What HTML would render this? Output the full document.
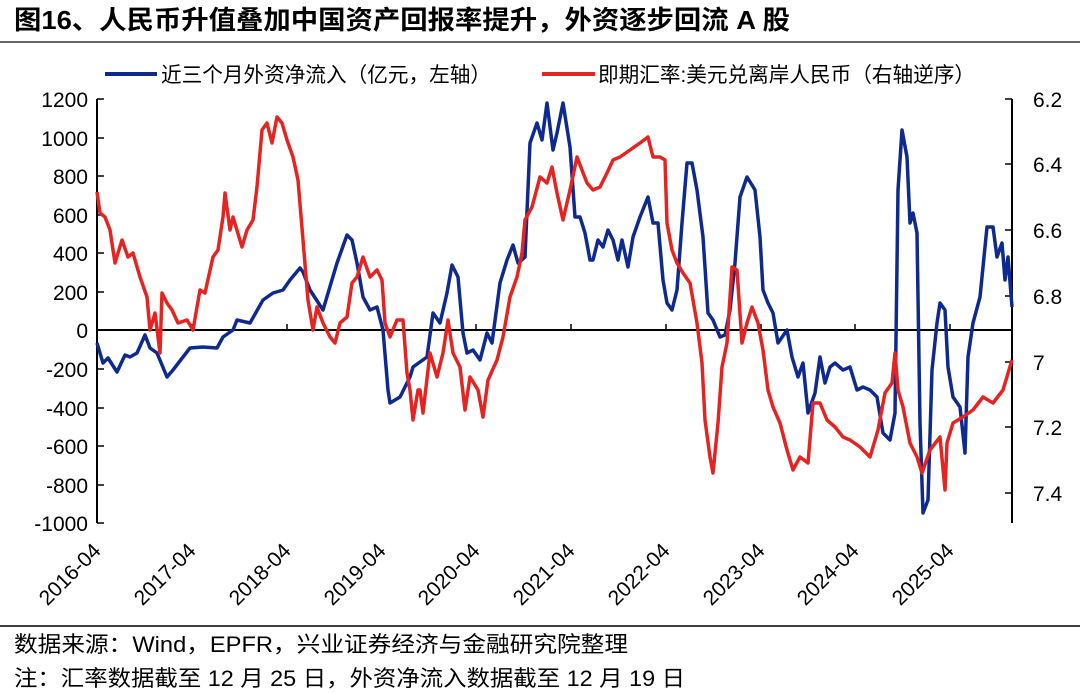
<!DOCTYPE html>
<html><head><meta charset="utf-8"><style>
body{margin:0;background:#fff;width:1080px;height:694px;overflow:hidden;font-family:"Liberation Sans","Noto Sans CJK SC",sans-serif}
svg{position:absolute;left:0;top:0}
</style></head><body>
<svg width="1080" height="694" viewBox="0 0 1080 694" font-family="Liberation Sans, Noto Sans CJK SC, sans-serif">
<text x="14" y="29" font-size="26" font-weight="bold" fill="#000" textLength="776" lengthAdjust="spacingAndGlyphs">图16、人民币升值叠加中国资产回报率提升，外资逐步回流 A 股</text>
<line x1="0" y1="42" x2="1080" y2="42" stroke="#666" stroke-width="2"/>
<line x1="105" y1="74" x2="157" y2="74" stroke="#0e2a8e" stroke-width="4"/>
<text x="161" y="82" font-size="21" textLength="330" lengthAdjust="spacingAndGlyphs">近三个月外资净流入（亿元，左轴）</text>
<line x1="542" y1="74" x2="595" y2="74" stroke="#e52421" stroke-width="4"/>
<text x="598" y="82" font-size="21" textLength="377" lengthAdjust="spacingAndGlyphs">即期汇率:美元兑离岸人民币（右轴逆序）</text>
<g stroke="#000" stroke-width="2">
<line x1="97" y1="99" x2="97" y2="523"/>
<line x1="1012" y1="99" x2="1012" y2="523"/>
<line x1="97" y1="330" x2="1012" y2="330"/>
</g>
<g stroke="#000" stroke-width="1.5">
<line x1="97" y1="99" x2="104" y2="99"/><line x1="97" y1="138" x2="104" y2="138"/><line x1="97" y1="176" x2="104" y2="176"/><line x1="97" y1="215" x2="104" y2="215"/><line x1="97" y1="253" x2="104" y2="253"/><line x1="97" y1="292" x2="104" y2="292"/><line x1="97" y1="369" x2="104" y2="369"/><line x1="97" y1="408" x2="104" y2="408"/><line x1="97" y1="446" x2="104" y2="446"/><line x1="97" y1="485" x2="104" y2="485"/><line x1="97" y1="523" x2="104" y2="523"/>
<line x1="1005" y1="99" x2="1012" y2="99"/><line x1="1005" y1="164" x2="1012" y2="164"/><line x1="1005" y1="230" x2="1012" y2="230"/><line x1="1005" y1="296" x2="1012" y2="296"/><line x1="1005" y1="362" x2="1012" y2="362"/><line x1="1005" y1="427" x2="1012" y2="427"/><line x1="1005" y1="493" x2="1012" y2="493"/>
<line x1="192" y1="330" x2="192" y2="324"/><line x1="287" y1="330" x2="287" y2="324"/><line x1="382" y1="330" x2="382" y2="324"/><line x1="476" y1="330" x2="476" y2="324"/><line x1="571" y1="330" x2="571" y2="324"/><line x1="666" y1="330" x2="666" y2="324"/><line x1="761" y1="330" x2="761" y2="324"/><line x1="855" y1="330" x2="855" y2="324"/><line x1="950" y1="330" x2="950" y2="324"/>
</g>
<g font-size="21" text-anchor="end">
<text x="88" y="107">1200</text><text x="88" y="146">1000</text><text x="88" y="184">800</text><text x="88" y="223">600</text><text x="88" y="261">400</text><text x="88" y="300">200</text><text x="88" y="338">0</text><text x="88" y="377">-200</text><text x="88" y="416">-400</text><text x="88" y="454">-600</text><text x="88" y="493">-800</text><text x="88" y="531">-1000</text>
</g>
<g font-size="21">
<text x="1033" y="107">6.2</text><text x="1033" y="172">6.4</text><text x="1033" y="238">6.6</text><text x="1033" y="304">6.8</text><text x="1033" y="370">7</text><text x="1033" y="435">7.2</text><text x="1033" y="501">7.4</text>
</g>
<g font-size="21" text-anchor="end">
<text transform="translate(102,552) rotate(-45)">2016-04</text>
<text transform="translate(197,552) rotate(-45)">2017-04</text>
<text transform="translate(292,552) rotate(-45)">2018-04</text>
<text transform="translate(387,552) rotate(-45)">2019-04</text>
<text transform="translate(481,552) rotate(-45)">2020-04</text>
<text transform="translate(576,552) rotate(-45)">2021-04</text>
<text transform="translate(671,552) rotate(-45)">2022-04</text>
<text transform="translate(766,552) rotate(-45)">2023-04</text>
<text transform="translate(860,552) rotate(-45)">2024-04</text>
<text transform="translate(955,552) rotate(-45)">2025-04</text>
</g>
<polyline fill="none" stroke="#0e2a8e" stroke-width="3.5" stroke-linejoin="round" points="97,343 103,363 108,358 117,372 125,355 130,357 137,353 145,335 150,348 157,353 167,377 173,370 183,357 190,348 203,347 217,348 223,337 233,330 237,320 250,323 263,300 273,293 283,290 290,280 300,268 303,272 310,290 323,310 337,263 347,235 352,240 357,263 363,297 370,310 377,307 383,330 388,390 390,403 400,397 410,377 413,367 427,357 433,313 440,323 447,293 452,265 458,277 463,333 467,353 473,350 480,360 487,333 492,343 500,283 507,260 513,245 518,263 525,257 530,143 537,123 542,140 547,103 553,150 557,133 563,103 570,147 575,217 580,217 585,233 590,260 593,260 598,240 603,247 608,230 613,240 618,260 622,240 628,267 633,237 640,217 648,197 653,223 658,223 663,280 667,303 672,310 677,290 682,223 687,163 692,163 697,190 703,237 708,313 713,320 720,337 725,335 730,310 735,263 740,197 747,177 752,185 755,190 760,237 763,290 768,303 773,313 778,343 787,330 792,357 798,377 803,363 808,413 815,393 820,357 825,383 830,367 835,363 843,370 850,367 857,390 863,387 870,390 877,397 883,433 890,440 895,413 898,190 902,130 907,157 910,223 913,213 917,233 920,423 923,513 928,500 932,370 937,323 940,303 945,310 948,367 953,397 960,407 965,453 968,357 973,323 980,297 987,227 993,227 997,257 1002,243 1005,280 1008,257 1012,307"/>
<polyline fill="none" stroke="#e52421" stroke-width="3.5" stroke-linejoin="round" points="97,192 100,213 105,217 110,230 115,263 122,240 128,257 133,253 140,277 147,297 150,330 155,313 160,353 162,293 167,303 172,310 178,323 187,320 193,330 200,290 205,293 213,257 218,250 223,217 225,193 230,230 233,217 242,247 247,230 253,220 257,187 262,130 267,123 272,143 277,117 282,123 287,140 293,157 298,180 303,240 308,300 313,330 317,307 323,323 330,337 335,343 340,323 347,317 352,283 357,277 363,257 370,277 377,270 382,280 385,323 390,337 397,320 403,320 407,373 410,390 413,420 418,390 420,390 423,413 430,353 437,377 443,353 448,320 453,353 460,367 465,410 470,377 478,390 483,417 488,380 497,360 503,337 510,297 517,277 522,253 525,220 532,207 540,177 547,183 552,167 557,193 563,220 570,190 577,157 582,170 587,183 593,190 600,187 607,173 613,160 620,157 630,150 640,143 648,137 653,157 660,157 665,160 667,223 672,250 677,263 683,273 690,283 697,323 702,363 705,420 710,457 713,473 718,423 722,367 727,343 732,267 737,270 742,343 747,323 752,307 758,323 763,350 768,390 773,407 780,423 787,450 793,470 800,457 808,463 813,403 820,403 827,420 835,427 843,437 850,440 860,447 870,457 878,430 885,393 892,383 895,353 898,390 903,407 910,443 917,457 922,473 930,450 940,437 945,490 947,443 953,423 963,417 973,410 983,397 993,403 1003,390 1012,360"/>
<line x1="0" y1="626" x2="1080" y2="626" stroke="#000" stroke-width="1.5"/>
<text x="14" y="652" font-size="22" textLength="614" lengthAdjust="spacingAndGlyphs">数据来源：Wind，EPFR，兴业证券经济与金融研究院整理</text>
<text x="14" y="686" font-size="22" textLength="671" lengthAdjust="spacingAndGlyphs">注：汇率数据截至 12 月 25 日，外资净流入数据截至 12 月 19 日</text>
</svg>
</body></html>
